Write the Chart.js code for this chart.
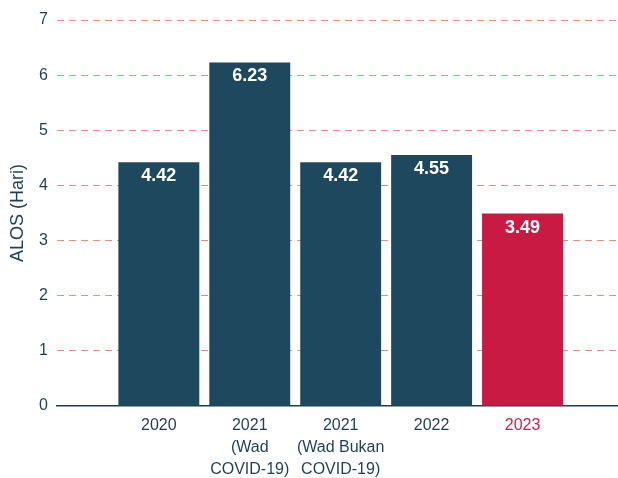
<!DOCTYPE html>
<html>
<head>
<meta charset="utf-8">
<script src="https://cdn.jsdelivr.net/npm/chart.js@4"></script>
<style>
  html, body { margin: 0; padding: 0; background: #fff; }
  #wrap { width: 618px; height: 478px; }
</style>
</head>
<body>
<div id="wrap"><canvas id="alos"></canvas></div>
<script>
// data
var categories = [
    ['2020'],
    ['2021', '(Wad', 'COVID-19)'],
    ['2021', '(Wad Bukan', 'COVID-19)'],
    ['2022'],
    ['2023']
];
var alosValues = [4.42, 6.23, 4.42, 4.55, 3.49];
var barColors = ['#1e485e', '#1e485e', '#1e485e', '#1e485e', '#c81a42'];
var yTicks = [0, 1, 2, 3, 4, 5, 6, 7];

var navy = '#1f3f55';

var valueLabels = {
    id: 'valueLabels',
    afterDatasetsDraw: function (chart) {
        var ctx = chart.ctx;
        var meta = chart.getDatasetMeta(0);
        ctx.save();
        ctx.fillStyle = '#ffffff';
        ctx.font = 'bold 18px "Liberation Sans", Arial, sans-serif';
        ctx.textAlign = 'center';
        ctx.textBaseline = 'middle';
        meta.data.forEach(function (bar, i) {
            ctx.fillText(alosValues[i].toFixed(2), bar.x, bar.y + 14);
        });
        ctx.restore();
    }
};

var ctx = document.getElementById('alos').getContext('2d');
var alosChart = new Chart(ctx, {
    type: 'bar',
    data: {
        datasets: [{
            label: 'ALOS',
            data: categories.map(function (c, i) { return { x: i + 1, y: alosValues[i] }; }),
            backgroundColor: barColors,
            borderWidth: 0,
            categoryPercentage: 1,
            barPercentage: 0.89
        }]
    },
    options: {
        responsive: true,
        maintainAspectRatio: false,
        animation: false,
        layout: { padding: { top: 20, right: 0, left: 0, bottom: 0 } },
        plugins: {
            legend: { display: false },
            tooltip: { enabled: false }
        },
        scales: {
            x: {
                type: 'linear',
                offset: false,
                min: -0.12,
                max: 6.05,
                afterBuildTicks: function (scale) {
                    scale.ticks = categories.map(function (c, i) { return { value: i + 1 }; });
                },
                afterFit: function (scale) { scale.height = 72; },
                grid: { display: false, drawTicks: false },
                border: { display: true, color: navy, width: 1.5 },
                ticks: {
                    padding: 8,
                    autoSkip: false,
                    maxRotation: 0,
                    font: { family: '"Liberation Sans", Arial, sans-serif', size: 16, lineHeight: 1.4 },
                    color: function (c) { return c.index === 4 ? '#d0204a' : navy; },
                    callback: function (v) { return categories[v - 1] || ''; }
                }
            },
            y: {
                min: 0,
                max: 7,
                z: 1,
                afterBuildTicks: function (scale) {
                    scale.ticks = yTicks.map(function (v) { return { value: v }; });
                },
                afterFit: function (scale) { scale.width = 57; },
                grid: {
                    drawTicks: false,
                    color: function (c) { return c.tick.value === 0 ? 'rgba(0,0,0,0)' : 'rgba(222,118,88,0.8)'; },
                    lineWidth: 1
                },
                border: { display: false, dash: [7, 5] },
                ticks: {
                    padding: 9,
                    font: { family: '"Liberation Sans", Arial, sans-serif', size: 16 },
                    color: navy
                },
                title: {
                    display: true,
                    text: 'ALOS (Hari)',
                    color: navy,
                    font: { family: '"Liberation Sans", Arial, sans-serif', size: 18 },
                    padding: { top: 7, bottom: 0 }
                }
            }
        }
    },
    plugins: [valueLabels]
});
</script>
</body>
</html>
